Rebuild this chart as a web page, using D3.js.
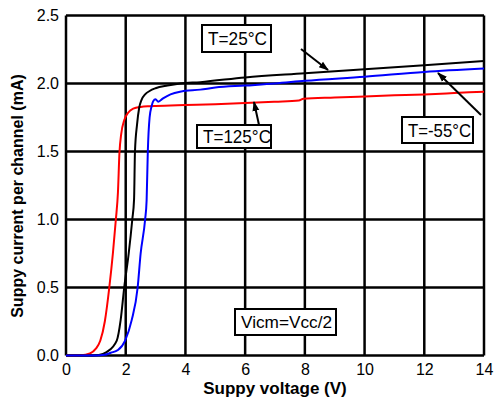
<!DOCTYPE html>
<html>
<head>
<meta charset="utf-8">
<script src="https://cdn.jsdelivr.net/npm/d3@7"></script>
<style>
  body { margin: 0; background: #fff; }
  text { font-family: "Liberation Sans", Arial, sans-serif; fill: #000; }
</style>
</head>
<body>
<div id="chart"></div>
<script>
const margin = { top: 15.5, right: 10, bottom: 48.5, left: 66 };
const width = 494 - margin.left - margin.right;
const height = 404 - margin.top - margin.bottom;

// tick values
const xTicks = [0, 2, 4, 6, 8, 10, 12, 14];
const yTicks = [0, 0.5, 1.0, 1.5, 2.0, 2.5];

// T=125°C (red)
const redV = [0, 0.5, 0.8, 1.0, 1.15, 1.3, 1.45, 1.57, 1.67, 1.74, 1.79, 1.85, 1.95, 2.08, 2.25, 2.5, 2.81, 3, 4, 5, 6, 7, 7.8, 7.95, 9, 10, 11, 12, 13, 14];
const redI = [0, 0.002, 0.015, 0.05, 0.11, 0.25, 0.5, 0.75, 1.0, 1.2, 1.49, 1.63, 1.73, 1.785, 1.815, 1.828, 1.833, 1.835, 1.842, 1.848, 1.856, 1.866, 1.875, 1.888, 1.897, 1.905, 1.913, 1.92, 1.93, 1.94];

// T=25°C (black)
const blackV = [0, 0.9, 1.1, 1.36, 1.7, 1.83, 1.95, 2.1, 2.22, 2.28, 2.31, 2.38, 2.45, 2.53, 2.65, 2.8, 3.0, 3.4, 3.82, 4.5, 6, 8, 10, 12, 14];
const blackI = [0, 0, 0.003, 0.025, 0.11, 0.26, 0.5, 0.75, 1.0, 1.15, 1.5, 1.7, 1.82, 1.88, 1.92, 1.945, 1.965, 1.985, 2.0, 2.01, 2.045, 2.075, 2.105, 2.135, 2.165];

// T=-55°C (blue)
const blueV = [0, 1.0, 1.3, 1.5, 1.74, 1.98, 2.2, 2.4, 2.5, 2.65, 2.7, 2.74, 2.8, 2.87, 2.92, 3.0, 3.09, 3.25, 3.5, 3.82, 4.5, 5, 6, 7, 8, 10, 12, 14];
const blueI = [0, 0, 0.005, 0.02, 0.04, 0.11, 0.26, 0.5, 0.75, 1.0, 1.14, 1.5, 1.75, 1.835, 1.87, 1.884, 1.866, 1.89, 1.92, 1.94, 1.955, 1.97, 1.985, 2.0, 2.02, 2.05, 2.085, 2.11];

const x = d3.scaleLinear().domain([0, 14]).range([0, width]);
const y = d3.scaleLinear().domain([0, 2.5]).range([height, 0]);

const svg = d3.select("#chart").append("svg")
    .attr("width", 494)
    .attr("height", 404);

const defs = svg.append("defs");
defs.append("marker")
    .attr("id", "arrow")
    .attr("viewBox", "0 0 10 10")
    .attr("refX", 9)
    .attr("refY", 5)
    .attr("markerWidth", 5)
    .attr("markerHeight", 5)
    .attr("markerUnits", "strokeWidth")
    .attr("orient", "auto")
    .append("path")
    .attr("d", "M0,1.5 L10,5 L0,8.5 Z")
    .attr("fill", "#000");

const g = svg.append("g").attr("transform", `translate(${margin.left},${margin.top})`);

// grid
g.selectAll(".vGrid")
    .data(xTicks)
    .enter()
    .append("line")
    .attr("x1", d => x(d))
    .attr("x2", d => x(d))
    .attr("y1", 0)
    .attr("y2", height)
    .attr("stroke", "#000")
    .attr("stroke-width", 2.5);

g.selectAll(".hGrid")
    .data(yTicks)
    .enter()
    .append("line")
    .attr("x1", 0)
    .attr("x2", width)
    .attr("y1", d => y(d))
    .attr("y2", d => y(d))
    .attr("stroke", "#000")
    .attr("stroke-width", 2.5);

// axes (labels only)
const xAxis = g.append("g")
    .attr("transform", `translate(0,${height})`)
    .call(d3.axisBottom(x).tickValues(xTicks).tickSize(0).tickPadding(8).tickFormat(d3.format("d")));
xAxis.select(".domain").remove();
xAxis.selectAll("text").style("font-size", "16px").style("font-family", "Liberation Sans, Arial, sans-serif");

const yAxis = g.append("g")
    .call(d3.axisLeft(y).tickValues(yTicks).tickSize(0).tickPadding(7).tickFormat(d3.format(".1f")));
yAxis.select(".domain").remove();
yAxis.selectAll("text").style("font-size", "16px").style("font-family", "Liberation Sans, Arial, sans-serif");

// curves
const line = d3.line()
    .x(d => x(d[0]))
    .y(d => y(d[1]))
    .curve(d3.curveMonotoneX);

const series = [
    { v: redV, i: redI, color: "#ff0000" },
    { v: blackV, i: blackI, color: "#000000" },
    { v: blueV, i: blueI, color: "#0000ff" }
];

series.forEach(s => {
    g.append("path")
        .datum(s.v.map((v, k) => [v, s.i[k]]))
        .attr("fill", "none")
        .attr("stroke", s.color)
        .attr("stroke-width", 2)
        .attr("d", line);
});

// annotation boxes
function label(txt, x0, y0, w, h, size, tl) {
    svg.append("rect")
        .attr("x", x0).attr("y", y0)
        .attr("width", w).attr("height", h)
        .attr("fill", "#fff")
        .attr("stroke", "#000")
        .attr("stroke-width", 2);
    svg.append("text")
        .attr("x", x0 + 6)
        .attr("y", y0 + h / 2 + size * 0.36)
        .attr("textLength", tl)
        .attr("lengthAdjust", "spacingAndGlyphs")
        .style("font-size", size + "px")
        .text(txt);
}

function arrow(x1, y1, x2, y2) {
    svg.append("line")
        .attr("x1", x1).attr("y1", y1)
        .attr("x2", x2).attr("y2", y2)
        .attr("stroke", "#000")
        .attr("stroke-width", 2)
        .attr("marker-end", "url(#arrow)");
}

label("T=25°C", 202, 25, 69, 27, 19, 59);
arrow(301, 49, 328, 70);

label("T=125°C", 197, 125, 74, 23, 19, 68);
arrow(259, 125, 254, 102);

label("T=-55°C", 402, 117, 71, 26, 19, 63);
arrow(481, 115, 438, 73);

label("Vicm=Vcc/2", 235, 309, 101, 26, 17, 91);

// axis titles
svg.append("text")
    .attr("x", 275)
    .attr("y", 394)
    .attr("text-anchor", "middle")
    .style("font-size", "17px")
    .style("font-weight", "bold")
    .text("Suppy voltage (V)");

svg.append("text")
    .attr("transform", "translate(23,196) rotate(-90)")
    .attr("text-anchor", "middle")
    .style("font-size", "16px")
    .style("font-weight", "bold")
    .text("Suppy current per channel (mA)");
</script>
</body>
</html>
